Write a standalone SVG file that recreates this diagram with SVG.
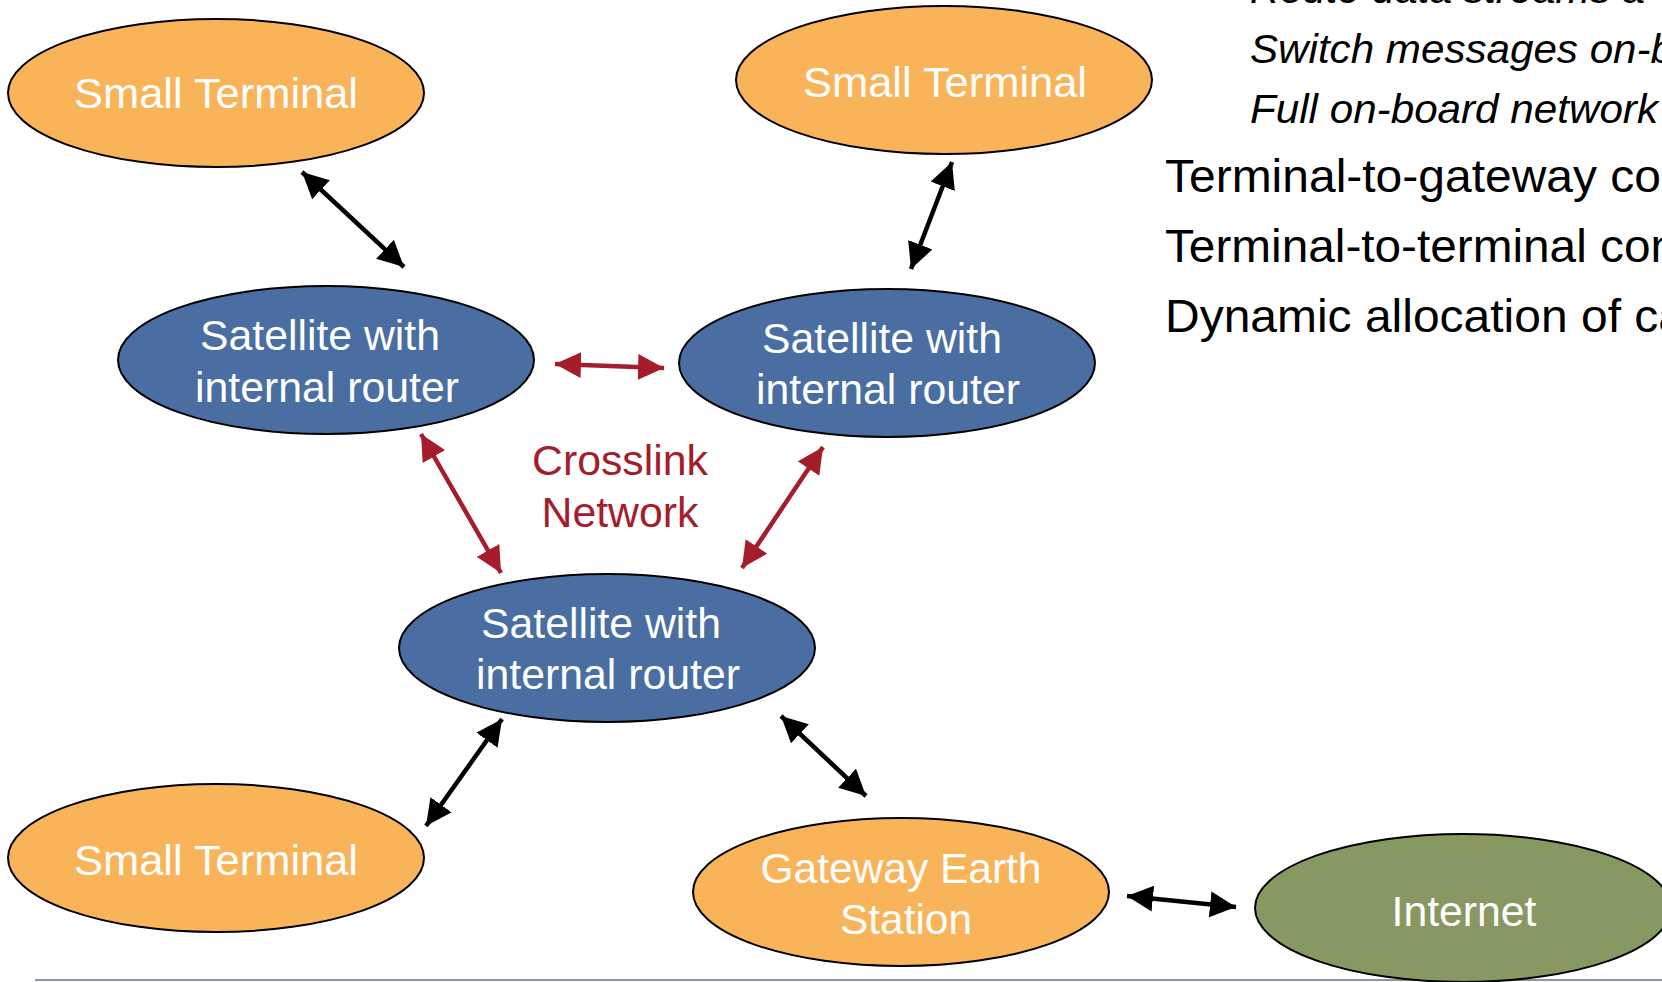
<svg xmlns="http://www.w3.org/2000/svg" width="1662" height="982" viewBox="0 0 1662 982">
<style>
  .node { stroke: #000; stroke-width: 2; }
  .orange { fill: #F9B45A; }
  .blue { fill: #4A6EA1; }
  .green { fill: #879862; }
  .lbl { font-family: "Liberation Sans", Arial, sans-serif; font-size: 42.5px; fill: #fff; text-anchor: middle; }
  .red-lbl { font-family: "Liberation Sans", Arial, sans-serif; font-size: 42.5px; fill: #A51C2B; text-anchor: middle; }
  .side { font-family: "Liberation Sans", Arial, sans-serif; font-size: 46px; fill: #000; }
  .side-it { font-family: "Liberation Sans", Arial, sans-serif; font-size: 41px; font-style: italic; fill: #000; }
  .blk { stroke: #000; stroke-width: 4.5; fill: none; marker-start: url(#ahB); marker-end: url(#ahB); }
  .red { stroke: #A51C2B; stroke-width: 4.5; fill: none; marker-start: url(#ahR); marker-end: url(#ahR); }
</style>
<defs>
  <marker id="ahB" markerUnits="userSpaceOnUse" markerWidth="26" markerHeight="26" refX="26" refY="13" orient="auto-start-reverse" viewBox="0 0 26 26">
    <path d="M0,0 L26,13 L0,26 z" fill="#000"/>
  </marker>
  <marker id="ahR" markerUnits="userSpaceOnUse" markerWidth="26" markerHeight="26" refX="26" refY="13" orient="auto-start-reverse" viewBox="0 0 26 26">
    <path d="M0,0 L26,13 L0,26 z" fill="#A51C2B"/>
  </marker>
</defs>
<rect x="0" y="0" width="1662" height="982" fill="#fff"/>
<line x1="35" y1="980" x2="1662" y2="980" stroke="#8E989E" stroke-width="2"/>

<g id="side-text">
  <text class="side-it" x="1250" y="3" textLength="395" lengthAdjust="spacingAndGlyphs">Route data streams a</text>
  <text class="side-it" x="1250" y="63" textLength="424" lengthAdjust="spacingAndGlyphs">Switch messages on-b</text>
  <text class="side-it" x="1250" y="123" textLength="408" lengthAdjust="spacingAndGlyphs">Full on-board network</text>
  <text class="side" x="1165" y="192" textLength="496" lengthAdjust="spacingAndGlyphs">Terminal-to-gateway co</text>
  <text class="side" x="1165" y="262" textLength="512" lengthAdjust="spacingAndGlyphs">Terminal-to-terminal con</text>
  <text class="side" x="1165" y="332" textLength="520" lengthAdjust="spacingAndGlyphs">Dynamic allocation of ca</text>
</g>

<g id="connectors">
  <line class="blk" x1="302" y1="172" x2="404" y2="267"/>
  <line class="blk" x1="952" y1="162" x2="911" y2="269"/>
  <line class="red" x1="555" y1="364" x2="664" y2="368"/>
  <line class="red" x1="421" y1="434" x2="501" y2="573"/>
  <line class="red" x1="823" y1="447" x2="742" y2="568"/>
  <line class="blk" x1="502" y1="719" x2="426" y2="826"/>
  <line class="blk" x1="781" y1="716" x2="866" y2="796"/>
  <line class="blk" x1="1127" y1="896" x2="1236" y2="907"/>
</g>

<g id="crosslink-label">
  <text class="red-lbl" x="620" y="475" textLength="176" lengthAdjust="spacingAndGlyphs">Crosslink</text>
  <text class="red-lbl" x="620" y="527" textLength="157" lengthAdjust="spacingAndGlyphs">Network</text>
</g>

<g id="terminal-top-left">
  <ellipse class="node orange" cx="216" cy="93" rx="208" ry="74"/>
  <text class="lbl" x="216" y="108" textLength="284" lengthAdjust="spacingAndGlyphs">Small Terminal</text>
</g>
<g id="terminal-top-right">
  <ellipse class="node orange" cx="944" cy="80" rx="208" ry="74"/>
  <text class="lbl" x="945" y="97" textLength="284" lengthAdjust="spacingAndGlyphs">Small Terminal</text>
</g>
<g id="satellite-left">
  <ellipse class="node blue" cx="326" cy="360" rx="208" ry="74"/>
  <text class="lbl" x="320" y="350" textLength="240" lengthAdjust="spacingAndGlyphs">Satellite with</text>
  <text class="lbl" x="327" y="402" textLength="264" lengthAdjust="spacingAndGlyphs">internal router</text>
</g>
<g id="satellite-right">
  <ellipse class="node blue" cx="887" cy="363" rx="208" ry="74"/>
  <text class="lbl" x="882" y="353" textLength="240" lengthAdjust="spacingAndGlyphs">Satellite with</text>
  <text class="lbl" x="888" y="404" textLength="264" lengthAdjust="spacingAndGlyphs">internal router</text>
</g>
<g id="satellite-bottom">
  <ellipse class="node blue" cx="607" cy="648" rx="208" ry="74"/>
  <text class="lbl" x="601" y="638" textLength="240" lengthAdjust="spacingAndGlyphs">Satellite with</text>
  <text class="lbl" x="608" y="689" textLength="264" lengthAdjust="spacingAndGlyphs">internal router</text>
</g>
<g id="terminal-bottom-left">
  <ellipse class="node orange" cx="216" cy="858" rx="208" ry="74"/>
  <text class="lbl" x="216" y="875" textLength="284" lengthAdjust="spacingAndGlyphs">Small Terminal</text>
</g>
<g id="gateway">
  <ellipse class="node orange" cx="901" cy="892" rx="208" ry="74"/>
  <text class="lbl" x="901" y="883" textLength="281" lengthAdjust="spacingAndGlyphs">Gateway Earth</text>
  <text class="lbl" x="906" y="934" textLength="132" lengthAdjust="spacingAndGlyphs">Station</text>
</g>
<g id="internet">
  <ellipse class="node green" cx="1463" cy="908" rx="208" ry="74"/>
  <text class="lbl" x="1464" y="926" textLength="145" lengthAdjust="spacingAndGlyphs">Internet</text>
</g>
</svg>
